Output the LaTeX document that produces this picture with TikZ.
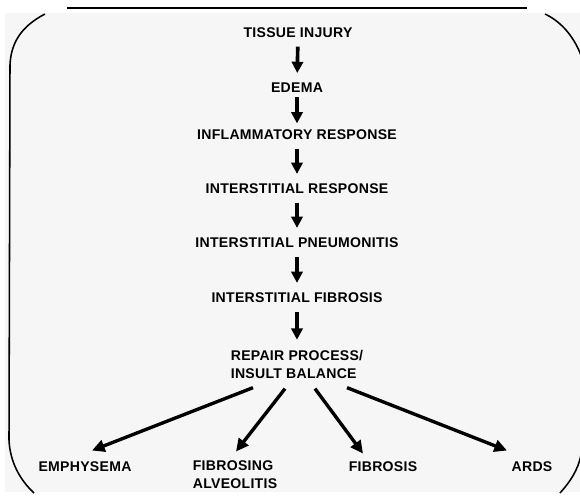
\documentclass[tikz,border=0pt]{standalone}
\usepackage{fontspec}
\setmainfont{Liberation Sans}[LetterSpace=2]
\usetikzlibrary{arrows.meta,positioning,calc}
\definecolor{panel}{HTML}{F6F6F6}

\begin{document}
\begin{tikzpicture}[
  x=0.025cm, y=-0.025cm,
  stage/.style={font=\fontsize{10}{12.8}\selectfont\bfseries, align=center,
                inner sep=3pt},
  outcome/.style={stage, align=left},
  flow/.style={draw, -{Triangle[length=8pt,width=8pt]}, line width=2.6pt,
               shorten <=3pt, shorten >=4pt},
  branch/.style={draw, -{Triangle[length=9pt,width=8.5pt]}, line width=2.4pt},
  frame/.style={draw, line width=1.1pt},
]
  \useasboundingbox (0,0) rectangle (580,498);

  % panel and its rounded frame
  \fill[panel] (5,13) rectangle (580,492);
  \draw[line width=1.4pt] (67,8) -- (527,8);
  \draw[frame] (45,14) .. controls (22,26) and (11,42) .. (10,65)
               -- (9,440) .. controls (10,462) and (20,480) .. (34,493);
  \draw[frame] (545,14) .. controls (562,22) and (575,38) .. (582,58);
  \draw[frame] (581,455) .. controls (578,470) and (570,482) .. (560,493);

  % main sequence
  \node[stage] (tissue) at (298,33) {TISSUE INJURY};
  \node[stage] (edema) at (297,88) {EDEMA};
  \node[stage] (inflam) at (297,135) {INFLAMMATORY RESPONSE};
  \node[stage] (intresp) at (297,189) {INTERSTITIAL RESPONSE};
  \node[stage] (pneum) at (297,243) {INTERSTITIAL PNEUMONITIS};
  \node[stage] (intfib) at (297,298) {INTERSTITIAL FIBROSIS};
  \node[outcome] (repair) at (297,364) {REPAIR PROCESS/\\ INSULT BALANCE};

  % outcomes
  \node[stage] (emph) at (85,467) {EMPHYSEMA};
  \node[outcome] (fibalv) at (235,475) {FIBROSING\\ ALVEOLITIS};
  \node[stage] (fibrosis) at (383,467) {FIBROSIS};
  \node[stage] (ards) at (532,467) {ARDS};

  % arrows
  \draw[flow] (tissue) -- (edema);
  \draw[flow, shorten <=0pt, shorten >=1.5pt] (edema) -- (inflam);
  \draw[flow] (inflam) -- (intresp);
  \draw[flow] (intresp) -- (pneum);
  \draw[flow] (pneum) -- (intfib);
  \draw[flow] (intfib) -- (repair);

  \draw[branch] ($(repair.south)+(-44,5)$) -- ($(emph.north)+(7,-7)$);
  \draw[branch] ($(repair.south)+(-12,6)$) -- ($(fibalv.north)+(1,-5)$);
  \draw[branch] ($(repair.south)+(18,6)$) -- ($(fibrosis.north)+(-20,-4)$);
  \draw[branch] ($(repair.south)+(50,5)$) -- ($(ards.north)+(-25,-7)$);

\end{tikzpicture}
\end{document}
